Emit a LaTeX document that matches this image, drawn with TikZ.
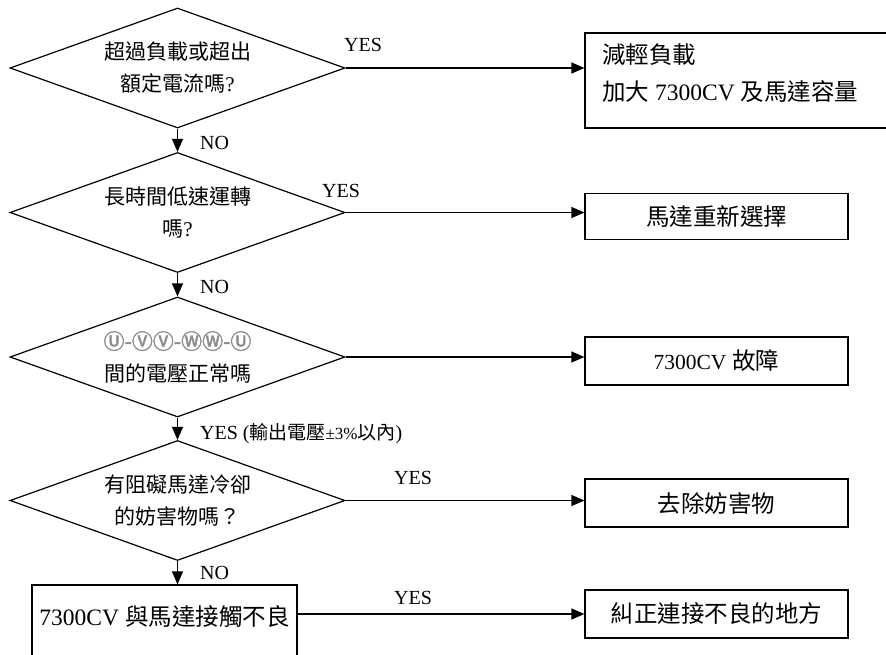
\documentclass[tikz,border=0pt]{standalone}
\usepackage{fontspec}
\setmainfont{Liberation Serif}
\newfontfamily\cjk{Noto Sans CJK TC}
\newfontfamily\cjkbold{Noto Sans CJK TC}[FakeBold=2]
\usetikzlibrary{shapes.geometric,arrows.meta}
\begin{document}
\begin{tikzpicture}[x=1pt,y=-1pt,
  dec/.style={draw, diamond, aspect=2.8, minimum width=335pt, minimum height=120pt,
    inner sep=0pt, line width=1.2pt, align=center, font=\fontsize{21}{32}\selectfont},
  res/.style={draw, rectangle, minimum width=263pt, minimum height=48pt, inner sep=0pt,
    line width=1.2pt, font=\fontsize{23.5}{28}\selectfont},
  plainbox/.style={draw, rectangle, inner sep=0pt, line width=1.2pt},
  arr/.style={line width=1.2pt, -{Triangle[length=13pt,width=11pt]}},
  lbl/.style={font=\fontsize{20}{24}\selectfont, inner sep=0pt}]
\useasboundingbox (0,0) rectangle (886,654);
\begin{scope}
\clip (0,0) rectangle (886,654);
% decisions
\node[dec] (d1) at (177.5,68) {{\cjk 超過負載或超出}\\{\cjk 額定電流嗎}?};
\node[dec] (d2) at (177.5,212.5) {{\cjk 長時間低速運轉}\\{\cjk 嗎}?};
\node[dec] (d3) at (177.5,357) {{\cjkbold\color{black!45}Ⓤ-ⓋⓋ-ⓌⓌ-Ⓤ}\\{\cjk 間的電壓正常嗎}};
\node[dec] (d4) at (177.5,500.5) {{\cjk 有阻礙馬達冷卻}\\{\cjk 的妨害物嗎？}};
% bottom-left box
\node[plainbox, minimum width=265pt, minimum height=120pt] (b5) at (164.5,645) {};
\node[inner sep=0pt, font=\fontsize{23.5}{28}\selectfont] (t5) at (164.5,617) {7300CV {\cjk 與馬達接觸不良}};
% result boxes
\node[plainbox, minimum width=360pt, minimum height=95pt] (b1) at (765,80.5) {};
\node[inner sep=0pt, anchor=west, align=left, font=\fontsize{23.5}{37}\selectfont] (t1) at (602,73.5)
  {{\cjk 減輕負載}\\{\cjk 加大} 7300CV {\cjk 及馬達容量}};
\node[res, minimum height=46pt] (b2) at (716.5,216.5) {\cjk 馬達重新選擇};
\node[res] (b3) at (716.5,361) {{\fontsize{21.5}{28}\selectfont 7300CV} {\cjk 故障}};
\node[res] (b4) at (716.5,503) {\cjk 去除妨害物};
\node[res] (b6) at (716.5,614) {\cjk 糾正連接不良的地方};
% connectors
\draw[arr] (d1.east) -- (d1.east -| b1.west);
\draw[arr] (d2.east) -- (d2.east -| b2.west);
\draw[arr] (d3.east) -- (d3.east -| b3.west);
\draw[arr] (d4.east) -- (d4.east -| b4.west);
\draw[arr] (b5.east |- b6.west) -- (b6.west);
\draw[arr] (d1.south) -- (d2.north);
\draw[arr] (d2.south) -- (d3.north);
\draw[arr] (d3.south) -- (d4.north);
\draw[arr] (d4.south) -- (d4.south |- b5.north);
% labels
\node[lbl] (y1) at (363,45) {YES};
\node[lbl] (y2) at (341,191) {YES};
\node[lbl] (y4) at (413,478) {YES};
\node[lbl] (y5) at (413,598) {YES};
\node[lbl, anchor=west] (n1) at (200,143) {NO};
\node[lbl, anchor=west] (n2) at (200,287) {NO};
\node[lbl, anchor=west] (n4) at (200,573) {NO};
\node[lbl, anchor=west] (y3) at (200,434) {YES ({\cjk\fontsize{19}{24}\selectfont 輸出電壓}{\fontsize{17}{20}\selectfont ±3\%}{\cjk\fontsize{19}{24}\selectfont 以內})};
\end{scope}
\end{tikzpicture}
\end{document}
